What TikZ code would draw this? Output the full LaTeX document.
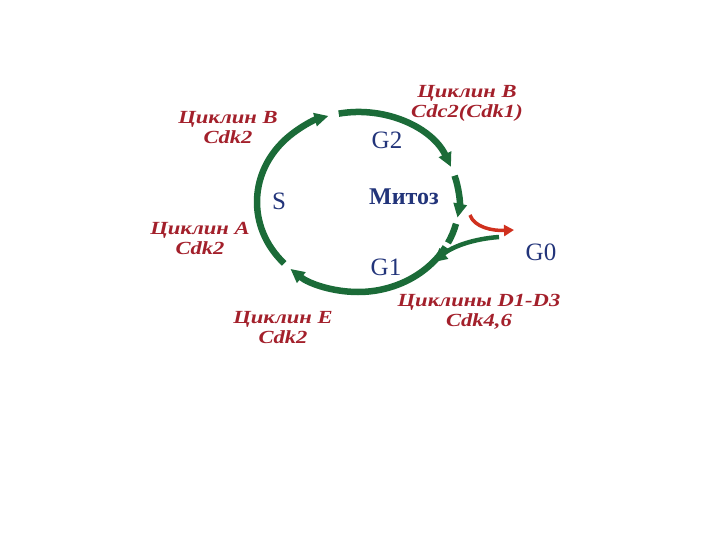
\documentclass[tikz,border=0pt]{standalone}
\usepackage{fontspec}
\setmainfont{Liberation Serif}
\newfontfamily\cycfont[FakeStretch=1.22]{Liberation Serif}
\usetikzlibrary{arrows.meta}
\definecolor{cycgreen}{HTML}{1B6B38}
\definecolor{cycred}{HTML}{A3202B}
\definecolor{arrred}{HTML}{D0301E}
\definecolor{phblue}{HTML}{22347A}
\begin{document}
\begin{tikzpicture}[x=1pt,y=1pt]

\tikzstyle{cyc}=[draw=cycgreen,line width=6.5pt]
\tikzstyle{cycarrow}=[-{Triangle[length=14pt,width=13pt]}]
\tikzstyle{cyclin}=[text=cycred,font=\cycfont\fontsize{18.5}{20}\selectfont\bfseries\itshape,align=center,inner sep=0pt]
\tikzstyle{phase}=[text=phblue,font=\fontsize{25}{26}\selectfont,inner sep=0pt]

\useasboundingbox (0,0) rectangle (720,-540);
\coordinate (c) at (358,-202);

\draw[cyc,cycarrow] ([shift={(223:101 and 90)}]c) arc[start angle=223,end angle=107,x radius=101,y radius=90];
\draw[cyc,cycarrow] ([shift={(101:101 and 90)}]c) arc[start angle=101,end angle=23,x radius=101,y radius=90];
\draw[cyc,cycarrow] ([shift={(17:101 and 90)}]c) arc[start angle=17,end angle=-10,x radius=101,y radius=90];
\draw[cyc] ([shift={(-14:101 and 90)}]c) arc[start angle=-14,end angle=-27,x radius=101,y radius=90];
\draw[cyc,cycarrow] ([shift={(-30:101 and 90)}]c) arc[start angle=-30,end angle=-132,x radius=101,y radius=90];

\coordinate (g0from) at (499,-237);
\coordinate (g0to) at ([shift={(-42:101 and 90)}]c);
\draw[cyc,line width=4.5pt,cycarrow] (g0from) .. controls (472,-239) and (452,-247) .. (g0to);

\coordinate (outfrom) at (470,-215);
\coordinate (outto) at (514,-230);
\draw[draw=arrred,line width=3.5pt,-{Triangle[length=10pt,width=11pt]}] (outfrom) .. controls (474,-227) and (492,-231) .. (outto);

\draw (228,-128) node [cyclin] (cycBs) {Циклин В\\Cdk2} ;
\draw (467,-103) node [cyclin] (cycBm) {Циклин В\\Cdc2(Cdk1)} ;
\draw (200,-238) node [cyclin] (cycA) {Циклин А\\Cdk2} ;
\draw (283,-328) node [cyclin] (cycE) {Циклин Е\\Cdk2} ;
\draw (479,-312) node [cyclin] (cycD) {Циклины D1-D3\\Cdk4,6} ;

\draw (387,-140) node [phase] (g2) {G2} ;
\draw (279,-201) node [phase] (s) {S} ;
\draw (404,-197) node [phase,font=\fontsize{24}{26}\selectfont\bfseries] (mitosis) {Митоз} ;
\draw (386,-267) node [phase] (g1) {G1} ;
\draw (541,-252) node [phase] (g0) {G0} ;

\end{tikzpicture}
\end{document}
